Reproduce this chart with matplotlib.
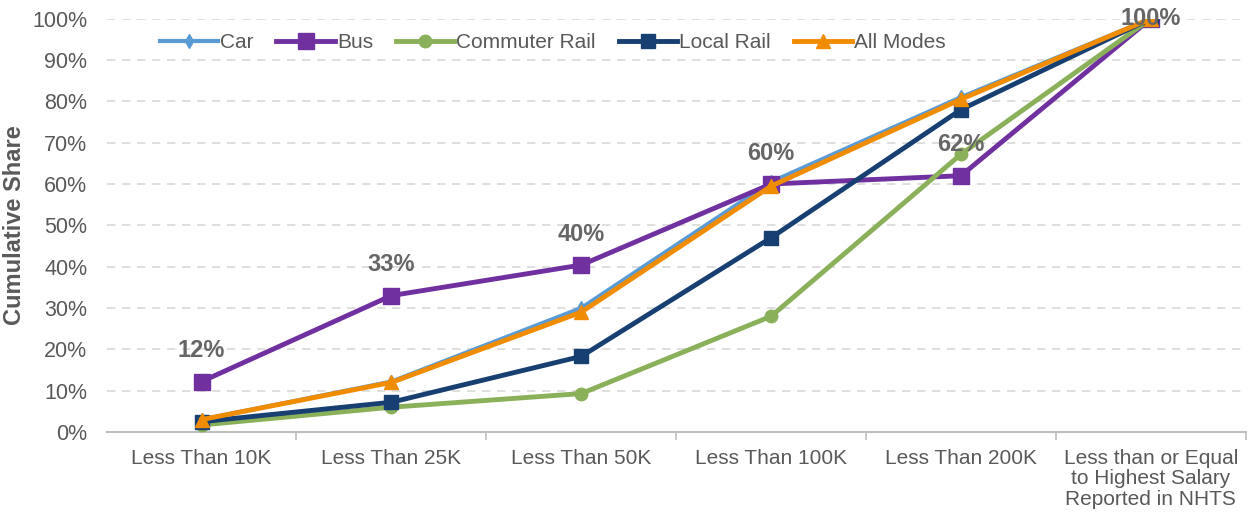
import matplotlib.pyplot as plt
import numpy as np

plt.rcParams['font.family'] = ['Liberation Sans', 'DejaVu Sans']

# Data
categories = ["Less Than 10K", "Less Than 25K", "Less Than 50K", "Less Than 100K",
              "Less Than 200K", "Less than or Equal\nto Highest Salary\nReported in NHTS"]
car = [3.0, 12.2, 30.0, 60.5, 81.0, 100]
bus = [12.2, 33.0, 40.4, 60.0, 62.0, 100]
commuter_rail = [1.7, 6.0, 9.3, 28.0, 67.2, 100]
local_rail = [2.5, 7.2, 18.3, 47.0, 78.0, 100]
all_modes = [3.0, 12.0, 29.0, 59.5, 80.5, 100]
bus_labels = ["12%", "33%", "40%", "60%", "62%", "100%"]

x = np.arange(len(categories))

fig = plt.figure(figsize=(12.47, 5.18), dpi=100)
ax = fig.add_axes([0.0855, 0.166, 0.9135, 0.798])

ax.plot(x, car, color='#5b9bd5', lw=3, marker='d', ms=7, label='Car', zorder=3)
ax.plot(x, bus, color='#7030a0', lw=3.5, marker='s', ms=12, label='Bus', zorder=3)
ax.plot(x, commuter_rail, color='#8ab05a', lw=3.5, marker='o', ms=9, label='Commuter Rail', zorder=3)
ax.plot(x, local_rail, color='#173f72', lw=3.5, marker='s', ms=10, label='Local Rail', zorder=3)
ax.plot(x, all_modes, color='#f08c00', lw=3.5, marker='^', ms=10, label='All Modes', zorder=4)

for i, (xi, yi, t) in enumerate(zip(x, bus, bus_labels)):
    last = i == len(x) - 1
    ax.annotate(t, (xi, yi), xytext=(0, 0 if last else 14), textcoords='offset points',
                ha='center', va='center' if last else 'bottom', fontsize=17,
                fontweight='bold', color='#666666', zorder=5, annotation_clip=False)

ax.set_xlim(-0.5, 5.5)
ax.set_ylim(0, 100)
ax.set_yticks(np.arange(0, 101, 10))
ax.set_yticklabels([f"{v}%" for v in range(0, 101, 10)])
ax.set_xticks(x)
ax.set_xticklabels(categories, linespacing=1.1)
ax.set_xticks(np.arange(0.5, 6, 1), minor=True)
ax.tick_params(axis='x', which='major', length=0, labelsize=15, colors='#595959', pad=12)
ax.tick_params(axis='x', which='minor', length=6, color='#bfbfbf', width=1.2)
ax.tick_params(axis='y', length=0, labelsize=15.5, colors='#595959', pad=14)
ax.grid(axis='y', ls=(0, (5, 4)), color='#d9d9d9', lw=1.2, zorder=0)
ax.set_axisbelow(True)
for s in ['top', 'right', 'left']:
    ax.spines[s].set_visible(False)
ax.spines['bottom'].set_color('#bfbfbf')
ax.spines['bottom'].set_linewidth(1.5)

ax.set_ylabel("Cumulative Share", fontsize=17, fontweight='bold', color='#595959', labelpad=4)

ax.legend(loc='upper left', bbox_to_anchor=(0.03, 1.01), ncol=5, frameon=False,
          fontsize=15, handlelength=2.8, handletextpad=0.1, columnspacing=1.1,
          labelcolor='#595959')

fig.savefig("out.png", dpi=100)
